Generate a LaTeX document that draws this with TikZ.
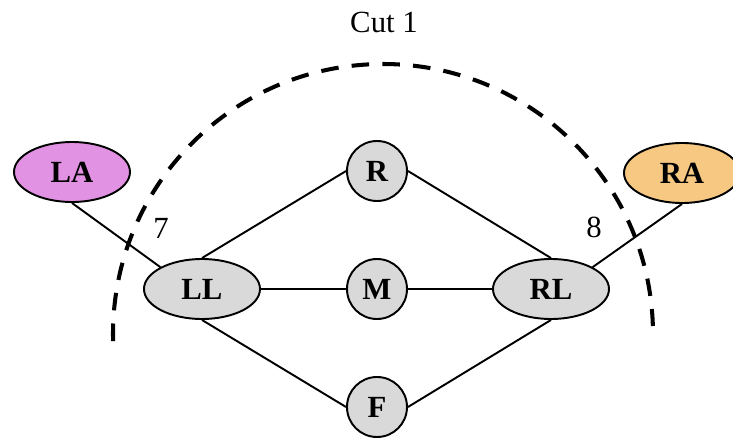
\documentclass[tikz,border=0pt]{standalone}
\usepackage{fontspec}
\setmainfont{Liberation Serif}
\usetikzlibrary{positioning,calc,shapes.geometric}
\definecolor{gri}{RGB}{217,217,217}
\definecolor{mov}{RGB}{226,146,226}
\definecolor{portocaliu}{RGB}{246,200,130}
\tikzset{
  nod/.style      = {draw, line width=1.1pt, fill=gri, inner sep=0pt,
                     font=\fontsize{17.5}{20}\selectfont\bfseries},
  elipsa/.style   = {nod, ellipse, minimum width=23.2mm, minimum height=12mm},
  cerc/.style     = {nod, circle, minimum size=12mm},
  eticheta/.style = {font=\fontsize{17.5}{20}\selectfont, inner sep=2pt},
  muchie/.style   = {line width=1.1pt},
  taietura/.style = {line width=2.3pt, dash pattern=on 10pt off 7.5pt}
}
\begin{document}
\begin{tikzpicture}[node distance=23.6mm and 35mm, on grid]
        \useasboundingbox (-7.54,-2.96) rectangle (7.12,5.78);
        \node[cerc] (M) {M};
        \node[cerc, above=of M] (R) {R};
        \node[cerc, below=of M] (F) {F};
        \node[elipsa, left=of M] (LL) {LL};
        \node[elipsa, right=34.8mm of M] (RL) {RL};
        \node[elipsa, fill=mov, above left=23.4mm and 26mm of LL] (LA) {LA};
        \node[elipsa, fill=portocaliu, above right=23.2mm and 26.2mm of RL] (RA) {RA};

        \draw[muchie] (LA.south) -- (LL.north west)
                      (RA.south) -- (RL.north east)
                      (LL.north) -- (R.west)  (R.east) -- (RL.north)
                      (LL.east) -- (M.west)   (M.east) -- (RL.west)
                      (LL.south) -- (F.west)  (F.east) -- (RL.south);

        \coordinate (centru) at (0.12,-0.9);
        \draw[taietura] ($(centru)+(181.5:5.4)$) arc[start angle=181.5, end angle=1.7, radius=5.4];

        \node[eticheta] at (0.14,5.34) {Cut 1};
        \node[eticheta] at (-4.32,1.22) {7};
        \node[eticheta] at (4.34,1.24) {8};
    \end{tikzpicture}
\end{document}
